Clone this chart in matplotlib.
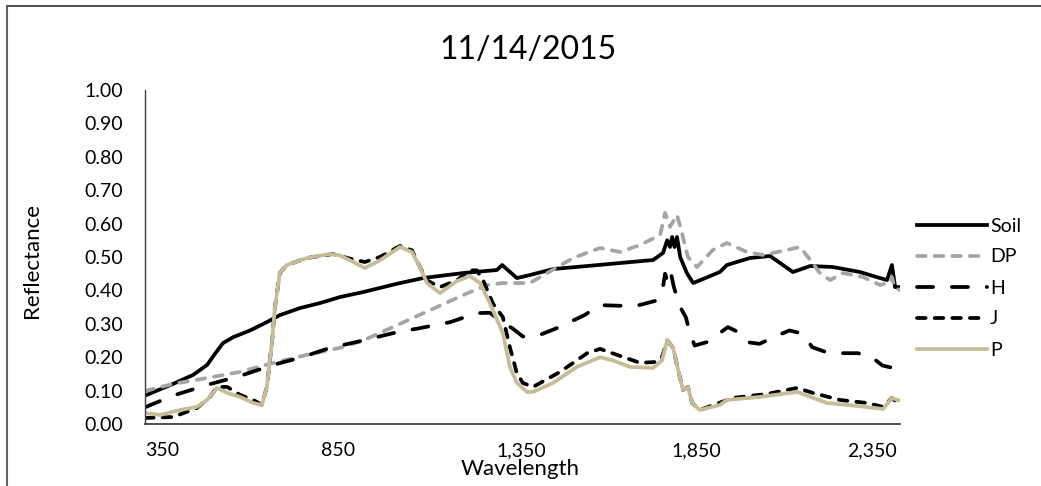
import matplotlib
matplotlib.use("Agg")
import matplotlib.pyplot as plt
from matplotlib.lines import Line2D
from matplotlib.ticker import FuncFormatter

plt.rcParams['font.family'] = ['Lato', 'DejaVu Sans']

# --- data (wavelength nm, reflectance) ---
soil_wl = [350, 430, 487, 527, 549, 572, 601, 649, 697, 734, 791, 848, 905, 971, 1068,
           1142, 1256, 1352, 1367, 1409, 1446, 1512, 1609, 1703, 1797, 1825, 1837, 1845,
           1851, 1858, 1865, 1874, 1893, 1911, 1987, 2007, 2073, 2130, 2195, 2244, 2309,
           2386, 2443, 2463, 2477, 2486, 2500]
soil_r = [0.085, 0.12, 0.147, 0.177, 0.21, 0.242, 0.26, 0.28, 0.305, 0.326, 0.347, 0.362,
          0.38, 0.395, 0.42, 0.437, 0.452, 0.461, 0.476, 0.437, 0.446, 0.464, 0.473, 0.482,
          0.491, 0.512, 0.55, 0.53, 0.56, 0.53, 0.56, 0.5, 0.452, 0.422, 0.455, 0.476, 0.497,
          0.503, 0.455, 0.473, 0.47, 0.455, 0.437, 0.431, 0.476, 0.41, 0.41]

dp_wl = [350, 430, 527, 621, 715, 811, 905, 971, 1068, 1162, 1256, 1324, 1369, 1418, 1446,
         1495, 1569, 1646, 1703, 1760, 1817, 1831, 1845, 1865, 1879, 1896, 1922, 1967, 2007,
         2064, 2110, 2178, 2215, 2238, 2272, 2301, 2338, 2395, 2443, 2472, 2477, 2486, 2500]
dp_r = [0.099, 0.12, 0.138, 0.156, 0.183, 0.207, 0.228, 0.25, 0.296, 0.341, 0.386, 0.416,
        0.422, 0.422, 0.422, 0.452, 0.497, 0.527, 0.515, 0.536, 0.566, 0.632, 0.59, 0.626,
        0.572, 0.5, 0.47, 0.521, 0.542, 0.515, 0.506, 0.521, 0.53, 0.5, 0.452, 0.431, 0.452,
        0.44, 0.416, 0.425, 0.44, 0.407, 0.401]

h_wl = [350, 430, 527, 621, 715, 797, 877, 971, 1068, 1133, 1219, 1295, 1332, 1361, 1398,
        1426, 1470, 1530, 1569, 1600, 1646, 1700, 1750, 1808, 1825, 1831, 1840, 1848, 1856,
        1874, 1890, 1900, 1915, 1950, 1990, 2010, 2040, 2065, 2100, 2140, 2185, 2224, 2250,
        2290, 2340, 2380, 2420, 2450, 2480, 2500]
h_r = [0.05, 0.085, 0.117, 0.144, 0.177, 0.2, 0.228, 0.25, 0.275, 0.287, 0.305, 0.332,
       0.333, 0.311, 0.285, 0.262, 0.265, 0.29, 0.31, 0.325, 0.356, 0.354, 0.354, 0.37, 0.41,
       0.45, 0.42, 0.45, 0.41, 0.35, 0.32, 0.28, 0.235, 0.245, 0.275, 0.29, 0.275, 0.245,
       0.24, 0.26, 0.28, 0.27, 0.23, 0.215, 0.212, 0.212, 0.2, 0.175, 0.168, 0.17]

j_wl = [350, 430, 498, 535, 555, 584, 621, 658, 683, 697, 712, 720, 734, 754, 811, 885, 934,
        976, 1019, 1076, 1110, 1133, 1153, 1190, 1238, 1275, 1295, 1313, 1341, 1369, 1389,
        1409, 1426, 1455, 1532, 1609, 1646, 1694, 1760, 1808, 1822, 1837, 1854, 1868, 1882,
        1896, 1908, 1930, 2024, 2121, 2207, 2252, 2329, 2406, 2452, 2477, 2492, 2500]
j_r = [0.018, 0.021, 0.048, 0.081, 0.111, 0.111, 0.087, 0.072, 0.057, 0.111, 0.25, 0.35,
       0.452, 0.476, 0.497, 0.509, 0.495, 0.485, 0.5, 0.533, 0.52, 0.47, 0.43, 0.41, 0.43,
       0.46, 0.46, 0.43, 0.36, 0.32, 0.23, 0.152, 0.123, 0.111, 0.156, 0.212, 0.225, 0.207,
       0.183, 0.186, 0.2, 0.25, 0.228, 0.162, 0.102, 0.111, 0.063, 0.042, 0.078, 0.09, 0.108,
       0.093, 0.072, 0.063, 0.051, 0.078, 0.065, 0.07]

p_wl = [350, 393, 450, 498, 527, 555, 584, 621, 658, 683, 697, 712, 720, 734, 754, 811, 877,
        905, 934, 976, 1019, 1076, 1110, 1133, 1153, 1190, 1238, 1275, 1304, 1332, 1369, 1389,
        1409, 1438, 1455, 1512, 1580, 1646, 1683, 1731, 1797, 1822, 1837, 1854, 1868, 1882,
        1896, 1908, 1930, 1987, 2007, 2101, 2207, 2292, 2378, 2452, 2477, 2492, 2500]
p_r = [0.033, 0.027, 0.042, 0.051, 0.072, 0.108, 0.093, 0.081, 0.063, 0.057, 0.111, 0.25,
       0.35, 0.452, 0.476, 0.497, 0.509, 0.505, 0.49, 0.467, 0.49, 0.53, 0.515, 0.47, 0.422,
       0.392, 0.428, 0.443, 0.422, 0.362, 0.272, 0.171, 0.123, 0.096, 0.096, 0.123, 0.171,
       0.2, 0.19, 0.171, 0.168, 0.19, 0.25, 0.228, 0.162, 0.102, 0.111, 0.063, 0.042, 0.057,
       0.072, 0.081, 0.096, 0.063, 0.054, 0.045, 0.078, 0.072, 0.07]

x_ticks = [350, 850, 1350, 1850, 2350]
y_ticks = [0.0, 0.1, 0.2, 0.3, 0.4, 0.5, 0.6, 0.7, 0.8, 0.9, 1.0]

fig = plt.figure(figsize=(10.41, 4.86), dpi=100)
ax = fig.add_axes([145 / 1041, 1 - 424 / 486, 755 / 1041, 334 / 486])

lw = 2.7
ax.plot(soil_wl, soil_r, color='black', lw=lw, label='Soil', solid_joinstyle='round')
ax.plot(dp_wl, dp_r, color='#A5A5A5', lw=lw, label='DP', dashes=(2.3, 2.4),
        dash_capstyle='round')
ax.plot(h_wl, h_r, color='black', lw=lw, label='H', dashes=(4.3, 5.0),
        dash_capstyle='round')
ax.plot(j_wl, j_r, color='black', lw=lw, label='J', dashes=(2.3, 2.4),
        dash_capstyle='round')
ax.plot(p_wl, p_r, color='#C4BD97', lw=lw, label='P', solid_joinstyle='round')

ax.set_xlim(350, 2500)
ax.set_ylim(0, 1.0)
ax.set_xticks(x_ticks)
ax.set_yticks(y_ticks)
ax.xaxis.set_major_formatter(FuncFormatter(lambda v, p: f"{int(v):,}"))
ax.yaxis.set_major_formatter(FuncFormatter(lambda v, p: f"{v:.2f}"))
ax.tick_params(length=0, labelsize=14)
ax.tick_params(axis='x', pad=13)
ax.tick_params(axis='y', pad=16)
for lab in ax.get_xticklabels():
    lab.set_horizontalalignment('left')

for s in ['top', 'right']:
    ax.spines[s].set_visible(False)
ax.spines['left'].set_color('#404040')
ax.spines['bottom'].set_color('#404040')
ax.spines['left'].set_linewidth(1.0)
ax.spines['bottom'].set_linewidth(1.3)

fig.text(528 / 1041, 1 - 50 / 486, '11/14/2015', ha='center', va='center', fontsize=23)
fig.text(32 / 1041, 1 - 260 / 486, 'Reflectance', ha='center', va='center',
         rotation=90, fontsize=16)
fig.text(520 / 1041, 1 - 469 / 486, 'Wavelength', ha='center', va='center', fontsize=16)

ax.legend(loc='center left', bbox_to_anchor=(917 / 1041, 1 - 288 / 486),
          bbox_transform=fig.transFigure, frameon=False, fontsize=14,
          handlelength=3.6, handletextpad=0.15, labelspacing=0.72,
          borderpad=0, borderaxespad=0)

# chart area border
fig.add_artist(Line2D([6.5 / 1041, 1], [1 - 6.5 / 486, 1 - 6.5 / 486],
                      transform=fig.transFigure, color='#303030', lw=1.2))
fig.add_artist(Line2D([6.5 / 1041, 6.5 / 1041], [0, 1 - 6.5 / 486],
                      transform=fig.transFigure, color='#606060', lw=1.5))

fig.savefig('out.png', dpi=100)
